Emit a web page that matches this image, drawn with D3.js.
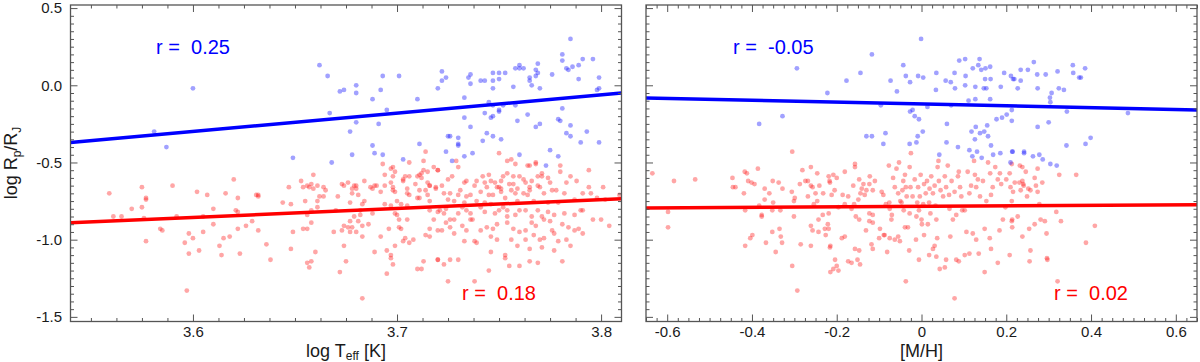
<!DOCTYPE html>
<html>
<head>
<meta charset="utf-8">
<script src="https://cdn.jsdelivr.net/npm/d3@7"></script>
<style>
  body { margin: 0; background: #fff; }
  text { font-family: "Liberation Sans", Arial, Helvetica, sans-serif; fill: #1a1a1a; }
  .rText { white-space: pre; }
</style>
</head>
<body>
<svg width="1200" height="362"></svg>
<script>
// ---- data ----
var yTicks = [0.5, 0, -0.5, -1, -1.5];
var leftXTicks = [3.6, 3.7, 3.8];
var rightXTicks = [-0.6, -0.4, -0.2, 0, 0.2, 0.4, 0.6];

// log Teff vs log Rp/RJ
var leftBlue = [
  [3.600,-0.02],[3.581,-0.30],[3.587,-0.40],
  [3.662,0.13],[3.666,0.06],[3.672,-0.04],[3.674,-0.03],[3.680,0.00],[3.680,-0.05],[3.688,-0.09],
  [3.692,-0.03],[3.693,0.06],[3.701,0.06],[3.695,-0.16],[3.667,-0.18],[3.680,-0.24],[3.677,-0.30],
  [3.691,-0.25],[3.710,-0.09],[3.720,-0.02],[3.711,-0.38],[3.688,-0.39],[3.689,-0.44],[3.693,-0.45],
  [3.678,-0.45],[3.703,-0.48],[3.649,-0.47],[3.668,-0.50],
  [3.722,0.09],[3.724,0.05],[3.722,0.03],[3.735,0.05],[3.736,0.07],[3.736,0.01],[3.741,0.03],
  [3.743,0.03],[3.747,0.08],[3.750,0.08],[3.750,0.04],[3.747,0.03],[3.747,-0.02],[3.753,0.08],
  [3.757,-0.01],[3.758,0.11],[3.760,0.13],[3.760,0.11],[3.762,0.11],[3.765,0.05],[3.765,0.03],
  [3.766,0.00],[3.768,0.06],[3.769,0.14],[3.768,0.10],[3.769,0.08],[3.770,-0.02],[3.776,0.07],
  [3.781,0.16],[3.781,0.20],[3.783,0.11],[3.784,0.10],[3.785,0.30],[3.786,0.12],[3.789,0.13],
  [3.789,0.04],[3.791,0.17],[3.796,0.17],[3.799,0.05],[3.799,-0.02],[3.798,-0.03],
  [3.733,-0.08],[3.745,-0.11],[3.747,-0.13],[3.750,-0.16],[3.750,-0.17],[3.743,-0.18],[3.746,-0.21],
  [3.747,-0.20],[3.752,-0.13],[3.758,-0.13],[3.759,-0.23],[3.764,-0.19],[3.768,-0.27],[3.770,-0.25],
  [3.781,-0.15],[3.779,-0.22],[3.780,-0.23],[3.785,-0.26],[3.783,-0.31],[3.785,-0.33],[3.793,-0.30],
  [3.790,-0.37],[3.799,-0.37],[3.733,-0.21],[3.736,-0.27],[3.744,-0.31],[3.747,-0.33],[3.751,-0.35],
  [3.742,-0.36],[3.730,-0.34],[3.725,-0.33],[3.726,-0.33],[3.730,-0.38],[3.730,-0.39],[3.724,-0.43],
  [3.733,-0.46],[3.737,-0.44],[3.727,-0.49],[3.760,-0.45],[3.775,-0.42],[3.779,-0.46],[3.773,-0.52]
];
var leftRed = [
  [3.559,-0.70],[3.561,-0.85],[3.565,-0.85],[3.570,-0.80],[3.575,-0.66],[3.575,-0.79],[3.577,-0.73],
  [3.577,-0.74],[3.576,-0.86],[3.577,-1.01],[3.584,-0.93],[3.585,-0.94],[3.590,-0.65],[3.592,-0.85],
  [3.596,-1.02],[3.598,-0.96],[3.598,-1.09],[3.600,-0.99],[3.597,-1.33],[3.602,-0.69],[3.603,-1.07],
  [3.605,-0.95],[3.605,-0.85],[3.607,-0.71],[3.610,-0.80],[3.610,-0.90],[3.613,-1.04],[3.614,-1.10],
  [3.615,-0.99],[3.616,-0.70],[3.618,-0.98],[3.620,-0.61],[3.621,-0.81],[3.622,-0.82],[3.622,-0.73],
  [3.622,-0.93],[3.623,-1.09],[3.626,-0.91],[3.629,-0.88],
  [3.631,-0.71],[3.632,-0.72],[3.632,-0.71],[3.632,-0.94],[3.636,-1.03],[3.638,-1.13],[3.644,-0.76],
  [3.648,-0.77],[3.647,-0.66],[3.649,-0.95],[3.648,-1.06],[3.653,-0.62],[3.654,-0.66],[3.655,-0.75],
  [3.656,-0.65],[3.656,-0.84],[3.658,-0.64],[3.659,-0.58],[3.658,-0.81],[3.657,-0.66],[3.659,-0.67],
  [3.661,-0.75],[3.661,-0.65],[3.662,-0.72],[3.664,-0.72],[3.664,-0.66],[3.665,-0.68],[3.661,-0.79],
  [3.654,-0.93],[3.656,-0.93],[3.658,-0.89],[3.660,-1.08],[3.656,-1.15],[3.657,-1.18],[3.658,-1.14],
  [3.669,-0.95],[3.670,-0.81],[3.671,-0.72],[3.673,-0.64],[3.674,-0.65],[3.676,-0.63],[3.674,-0.91],
  [3.673,-0.94],[3.674,-1.04],[3.675,-1.14],[3.672,-1.21],[3.678,-0.67],[3.679,-0.65],[3.680,-0.65],
  [3.680,-0.67],[3.678,-0.70],[3.677,-0.76],[3.676,-0.92],[3.677,-0.95],[3.678,-0.92],[3.677,-0.88],
  [3.679,-0.85],[3.681,-0.88],[3.681,-0.71],[3.683,-0.77],[3.684,-0.75],[3.682,-0.81],[3.682,-0.84],
  [3.683,-0.91],[3.683,-0.98],[3.680,-0.95],[3.684,-0.62],[3.686,-0.90],[3.687,-0.66],[3.688,-0.67],
  [3.688,-0.83],[3.689,-0.65],[3.690,-0.65],[3.692,-0.69],[3.689,-1.08],[3.683,-1.38],[3.693,-0.51],
  [3.694,-0.58],[3.694,-0.65],[3.694,-0.77],[3.696,-0.93],[3.692,-0.98],[3.695,-1.07],[3.695,-1.22],
  [3.697,-0.63],[3.697,-0.54],[3.698,-0.53],[3.698,-0.59],[3.699,-0.56],[3.698,-0.66],[3.697,-0.78],
  [3.698,-0.68],[3.699,-0.69],[3.700,-0.75],[3.699,-0.83],[3.699,-1.04],[3.697,-1.10],[3.697,-1.12],
  [3.698,-1.16],[3.700,-0.84],[3.701,-0.87],[3.701,-0.92],[3.702,-0.93],[3.703,-1.01],[3.704,-0.99],
  [3.702,-0.77],[3.703,-0.61],[3.703,-0.62],[3.704,-0.59],[3.706,-0.50],[3.706,-0.59],[3.705,-0.67],
  [3.705,-0.70],[3.706,-0.71],[3.705,-0.78],[3.705,-0.87],[3.706,-1.02],[3.708,-1.00],[3.709,-0.64],
  [3.710,-0.59],[3.711,-0.58],[3.712,-0.57],[3.713,-0.55],[3.712,-0.60],[3.713,-0.49],[3.714,-0.43],
  [3.711,-0.73],[3.710,-0.73],[3.711,-0.68],[3.715,-0.56],[3.715,-0.63],[3.716,-0.65],[3.716,-0.65],
  [3.714,-0.68],[3.715,-0.71],[3.716,-0.75],[3.716,-0.81],[3.718,-0.87],[3.719,-0.66],[3.719,-0.67],
  [3.718,-0.53],[3.720,-0.55],[3.720,-0.82],[3.720,-0.94],[3.716,-0.93],[3.714,-0.97],[3.716,-0.98],
  [3.713,-1.14],[3.712,-1.19],[3.710,-1.19],[3.720,-1.13],
  [3.729,-0.49],[3.730,-0.53],[3.750,-0.44],[3.754,-0.49],[3.756,-0.48],[3.758,-0.51],[3.764,-0.52],
  [3.765,-0.52],[3.768,-0.51],[3.768,-0.50],[3.780,-0.52],[3.780,-0.56],[3.794,-0.55],[3.774,-0.60],
  [3.771,-0.57],[3.771,-0.59],[3.785,-0.59],[3.788,-0.62],[3.783,-0.63],[3.794,-0.66],[3.801,-0.66],
  [3.791,-0.70],[3.795,-0.70],[3.787,-0.74],[3.798,-0.73],[3.802,-0.74],[3.809,-0.71],
  [3.720,-0.55],[3.722,-0.65],[3.725,-0.61],[3.727,-0.59],[3.733,-0.63],[3.734,-0.62],[3.723,-0.70],
  [3.726,-0.70],[3.725,-0.74],[3.728,-0.75],[3.721,-0.81],[3.723,-0.83],[3.724,-0.89],[3.722,-0.94],
  [3.726,-0.87],[3.728,-0.87],[3.730,-0.83],[3.732,-0.79],[3.733,-0.76],[3.734,-0.72],[3.736,-0.71],
  [3.738,-0.65],[3.739,-0.62],[3.742,-0.59],[3.743,-0.63],[3.744,-0.66],[3.745,-0.58],[3.746,-0.62],
  [3.748,-0.63],[3.750,-0.66],[3.751,-0.69],[3.751,-0.62],[3.752,-0.59],[3.754,-0.57],[3.755,-0.64],
  [3.757,-0.64],[3.758,-0.70],[3.759,-0.67],[3.762,-0.61],[3.763,-0.63],[3.765,-0.66],[3.766,-0.62],
  [3.769,-0.65],[3.770,-0.66],[3.772,-0.70],[3.776,-0.68],[3.778,-0.68],[3.782,-0.70],[3.745,-0.71],
  [3.747,-0.71],[3.753,-0.73],[3.759,-0.75],[3.764,-0.71],[3.767,-0.75],
  [3.724,-0.80],[3.734,-0.81],[3.736,-0.87],[3.737,-0.87],[3.741,-0.79],[3.743,-0.82],[3.748,-0.83],
  [3.750,-0.81],[3.754,-0.81],[3.760,-0.81],[3.763,-0.81],[3.769,-0.81],[3.774,-0.82],[3.777,-0.84],
  [3.782,-0.83],[3.787,-0.84],[3.790,-0.81],[3.791,-0.81],[3.796,-0.87],[3.800,-0.87],[3.804,-0.91],
  [3.726,-0.92],[3.732,-0.91],[3.734,-0.94],[3.741,-0.94],[3.744,-0.92],[3.747,-0.93],[3.749,-0.90],
  [3.754,-0.89],[3.757,-0.93],[3.760,-0.95],[3.763,-0.94],[3.766,-0.89],[3.768,-0.91],[3.772,-0.87],
  [3.775,-0.88],[3.781,-0.90],[3.784,-0.92],[3.787,-0.94],[3.789,-0.93],[3.791,-0.96],[3.776,-0.94],
  [3.777,-0.96],[3.767,-0.97],[3.756,-1.00],[3.749,-1.00],[3.746,-0.98],[3.738,-1.01],[3.728,-0.96],
  [3.733,-1.01],[3.763,-1.00],[3.770,-1.00],[3.772,-0.99],[3.779,-1.01],[3.783,-1.00],[3.785,-1.04],
  [3.777,-1.07],[3.771,-1.05],[3.765,-1.06],[3.759,-1.04],[3.746,-1.08],[3.739,-1.02],[3.720,-1.13],
  [3.723,-1.16],[3.726,-1.13],[3.730,-1.13],[3.738,-1.27],[3.725,-1.27],[3.745,-1.20],[3.753,-1.10],
  [3.753,-1.12],[3.755,-1.17],[3.760,-1.17],[3.765,-1.14],[3.769,-1.15],[3.781,-1.14],
  [3.749,-0.66],[3.751,-0.67],[3.757,-0.59],[3.760,-0.59],[3.756,-0.68],[3.762,-0.70],[3.765,-0.68],
  [3.769,-0.59],[3.775,-0.63],[3.774,-0.76],[3.779,-0.76],[3.741,-0.69],[3.739,-0.75],[3.731,-0.68],
  [3.730,-0.71],[3.736,-0.83],[3.754,-0.85],[3.758,-0.84],[3.766,-0.85],[3.771,-0.85],[3.752,-0.79],
  [3.746,-0.77],[3.743,-0.76]
];

// [M/H] vs log Rp/RJ
var rightBlue = [
  [-0.294,0.11],[-0.222,-0.05],[-0.328,-0.20],[-0.383,-0.25],
  [-0.177,0.03],[-0.144,0.08],[-0.117,0.20],[-0.001,0.30],[-0.043,0.13],[-0.073,0.03],[-0.058,-0.04],
  [-0.037,0.06],[-0.027,0.02],[-0.008,0.06],[0.004,0.05],[0.035,0.08],[0.034,-0.03],[0.057,0.03],
  [0.069,0.02],[0.078,0.08],[0.079,-0.02],[0.089,0.16],[0.103,0.17],[0.104,0.06],[0.103,0.00],
  [0.121,0.11],[0.134,0.13],[0.137,0.17],[0.141,0.10],[0.151,0.11],[0.162,0.12],[0.150,0.04],
  [0.163,0.04],[0.127,-0.01],[0.147,-0.02],[0.153,-0.02],[0.187,-0.01],[0.195,0.08],[0.211,0.06],
  [0.216,0.04],[0.111,-0.10],[0.127,-0.09],[0.162,-0.09],[-0.096,-0.13],[0.014,-0.14],[0.070,-0.13],
  [-0.027,-0.17],[-0.021,-0.16],[-0.016,-0.20],[-0.006,-0.22],[0.060,-0.25],[0.003,-0.30],
  [-0.009,-0.33],[-0.012,-0.37],[-0.085,-0.31],[-0.090,-0.38],[-0.130,-0.33],[-0.117,-0.33],
  [-0.028,-0.38],[0.059,-0.37],[0.086,-0.40],[0.113,-0.42],[0.131,-0.43],[0.120,-0.46],[0.142,-0.47],
  [0.169,-0.45],[0.186,-0.44],[0.164,-0.39],[0.157,-0.33],[0.148,-0.30],[0.138,-0.31],[0.155,-0.26],
  [0.118,-0.30],[0.128,-0.27],[0.126,-0.35],[0.177,-0.22],[0.190,-0.21],[0.201,-0.19],[0.213,-0.16],
  [0.214,-0.43],[0.210,-0.50],[0.042,-0.45],
  [0.219,0.04],[0.234,0.10],[0.234,0.03],[0.227,-0.02],[0.251,0.10],[0.265,0.15],[0.273,0.07],
  [0.293,0.07],[0.274,-0.02],[0.321,0.09],[0.357,0.13],[0.358,0.08],[0.372,0.05],[0.376,0.05],
  [0.386,0.11],[0.324,-0.02],[0.336,-0.03],[0.307,-0.05],[0.303,-0.08],[0.304,-0.11],[0.343,-0.17],
  [0.213,-0.23],[0.274,-0.27],[0.300,-0.24],[0.487,-0.18],[0.342,-0.39],[0.387,-0.38],[0.399,-0.34],
  [0.215,-0.43],[0.242,-0.43],[0.242,-0.44],[0.263,-0.46],[0.278,-0.45],[0.286,-0.48],[0.304,-0.51],
  [0.319,-0.52]
];
var rightRed = [
  [-0.635,-0.57],[-0.584,-0.62],[-0.534,-0.61],[-0.598,-0.82],[-0.598,-0.92],[-0.446,-0.60],
  [-0.445,-0.66],[-0.439,-0.66],[-0.417,-0.56],[-0.412,-0.57],[-0.409,-0.62],[-0.401,-0.63],
  [-0.394,-0.64],[-0.386,-0.54],[-0.419,-0.70],[-0.416,-0.81],[-0.383,-0.78],[-0.377,-0.84],
  [-0.377,-0.85],[-0.370,-0.74],[-0.370,-0.67],[-0.359,-0.70],[-0.351,-0.62],[-0.350,-0.76],
  [-0.352,-0.81],[-0.337,-0.63],[-0.328,-0.67],[-0.333,-0.81],[-0.352,-0.95],[-0.335,-0.93],
  [-0.332,-0.98],[-0.329,-1.02],[-0.344,-1.08],[-0.367,-1.02],[-0.399,-0.97],[-0.404,-0.99],
  [-0.416,-1.04],[-0.305,-0.43],[-0.306,-0.69],[-0.299,-0.73],[-0.301,-0.75],[-0.301,-0.85],
  [-0.305,-1.17],[-0.293,-1.33],[-0.287,-0.64],[-0.281,-0.55],[-0.274,-0.62],[-0.268,-0.62],
  [-0.261,-0.53],[-0.261,-0.65],[-0.257,-0.66],[-0.246,-0.57],[-0.250,-0.70],[-0.241,-0.65],
  [-0.268,-0.72],[-0.254,-0.77],[-0.246,-0.75],[-0.232,-0.70],[-0.233,-0.84],[-0.243,-0.87],
  [-0.261,-0.91],[-0.257,-0.94],[-0.243,-0.95],[-0.228,-0.93],[-0.226,-0.97],[-0.221,-0.90],
  [-0.219,-0.93],[-0.219,-0.59],[-0.217,-0.62],[-0.219,-0.83],[-0.285,-1.03],[-0.261,-1.04],
  [-0.215,-1.04],[-0.215,-1.21],
  [-0.216,-0.63],[-0.208,-0.58],[-0.200,-0.60],[-0.205,-0.68],[-0.212,-0.71],[-0.186,-0.71],
  [-0.181,-0.56],[-0.196,-0.79],[-0.181,-0.77],[-0.173,-0.72],[-0.161,-0.65],[-0.157,-0.51],
  [-0.157,-0.53],[-0.147,-0.61],[-0.141,-0.67],[-0.137,-0.64],[-0.134,-0.71],[-0.130,-0.68],
  [-0.123,-0.64],[-0.122,-0.59],[-0.115,-0.68],[-0.110,-0.62],[-0.144,-0.70],[-0.149,-0.74],
  [-0.159,-0.77],[-0.165,-0.80],[-0.155,-0.85],[-0.147,-0.87],[-0.123,-0.83],[-0.115,-0.84],
  [-0.123,-0.88],[-0.131,-0.94],[-0.115,-0.89],[-0.098,-0.93],[-0.100,-0.99],[-0.087,-0.97],
  [-0.094,-0.69],[-0.090,-0.71],[-0.084,-0.77],[-0.077,-0.52],[-0.076,-0.76],[-0.075,-0.80],
  [-0.070,-0.84],[-0.071,-0.87],[-0.067,-0.60],[-0.063,-0.66],[-0.059,-0.54],[-0.055,-0.70],
  [-0.053,-0.50],[-0.050,-0.75],[-0.047,-0.76],[-0.045,-0.68],[-0.043,-0.62],[-0.042,-0.81],
  [-0.039,-0.58],[-0.037,-0.66],[-0.035,-0.72],[-0.032,-0.92],[-0.028,-0.83],[-0.026,-0.66],
  [-0.025,-0.44],[-0.028,-0.53],[-0.021,-0.72],[-0.016,-0.61],[-0.012,-0.85],[-0.010,-0.76],
  [-0.008,-0.66],[-0.006,-0.81],[-0.004,-0.72],[-0.002,-0.58],[0.001,-0.90],[0.004,-0.77],
  [0.006,-0.64],[0.010,-0.70],[0.013,-0.62],[0.015,-0.90],[0.018,-0.76],[0.019,-0.67],[0.021,-0.83],
  [0.023,-0.59],[0.027,-0.70],[0.031,-0.65],[0.033,-0.78],[0.035,-0.87],[0.038,-0.53],[0.040,-0.49],
  [0.041,-0.62],[0.045,-0.68],[0.051,-0.72],[0.055,-0.59],[0.058,-0.66],[0.062,-0.52],[0.065,-0.71],
  [0.066,-0.80],[0.071,-0.62],[0.074,-0.87],[0.078,-0.69],[0.082,-0.84],[0.086,-0.59],[0.088,-0.56],
  [0.091,-0.66],[0.094,-0.72],[0.096,-0.81],[0.102,-0.81],[0.106,-0.95],[0.109,-0.56],[0.113,-0.70],
  [0.117,-0.65],[0.124,-0.49],[0.126,-0.58],[0.129,-0.66],[0.133,-0.61],[0.138,-0.72],[0.145,-0.62],
  [0.149,-0.93],[0.153,-0.75],[0.157,-0.50],[0.162,-0.57],[0.164,-0.71],[0.168,-0.66],[0.174,-0.53],
  [0.180,-0.61],[0.185,-0.57],[0.188,-0.64],[0.192,-0.87],[0.198,-0.79],[0.200,-0.61],[0.208,-0.57],
  [0.214,-0.87],[0.210,-0.66],
  [-0.216,-1.05],[-0.208,-1.19],[-0.200,-1.17],[-0.196,-1.20],[-0.204,-1.13],[-0.188,-0.99],
  [-0.181,-0.98],[-0.173,-1.14],[-0.165,-1.15],[-0.157,-1.06],[-0.151,-1.13],[-0.147,-1.07],
  [-0.145,-1.16],[-0.118,-1.03],[-0.115,-1.06],[-0.089,-0.97],[-0.081,-1.08],[-0.075,-0.99],
  [-0.063,-1.00],[-0.055,-0.98],[-0.051,-1.01],[-0.039,-0.92],[-0.037,-1.27],[-0.029,-1.07],
  [-0.013,-1.00],[-0.006,-1.13],[0.000,-0.87],[0.006,-0.97],[0.018,-1.10],[0.027,-1.06],[0.031,-1.04],
  [0.035,-1.11],[0.037,-0.99],[0.043,-1.19],[0.055,-1.18],[0.058,-1.13],[0.068,-0.98],[0.078,-1.38],
  [0.082,-1.13],[0.088,-1.14],[0.102,-1.10],[0.113,-1.09],[0.121,-0.96],[0.129,-1.00],[0.135,-1.09],
  [0.149,-1.21],[0.161,-0.99],[0.164,-1.06],[0.184,-0.94],[0.180,-1.15],[0.208,-1.10],[0.214,-0.92],
  [0.213,-0.51],[0.232,-0.52],[0.238,-0.53],[0.246,-0.56],[0.220,-0.63],[0.231,-0.63],[0.238,-0.62],
  [0.241,-0.65],[0.240,-0.64],[0.216,-0.69],[0.234,-0.68],[0.252,-0.67],[0.257,-0.68],[0.249,-0.72],
  [0.274,-0.54],[0.267,-0.60],[0.270,-0.65],[0.274,-0.69],[0.285,-0.63],[0.325,-0.58],[0.365,-0.58],
  [0.213,-0.75],[0.278,-0.77],[0.213,-0.88],[0.227,-0.85],[0.254,-0.93],[0.267,-0.90],[0.281,-0.87],
  [0.291,-0.88],[0.318,-0.82],[0.329,-0.88],[0.295,-0.96],[0.238,-0.98],[0.257,-1.07],[0.255,-1.14],
  [0.296,-1.12],[0.297,-1.13],[0.409,-0.91],[0.388,-1.02],[0.321,-1.27]
];

// linear fits (end points) and correlation coefficients
var leftBlueFit = [[3.54, -0.37], [3.81, -0.05]];
var leftRedFit = [[3.54, -0.89], [3.81, -0.735]];
var rightBlueFit = [[-0.65, -0.082], [0.65, -0.16]];
var rightRedFit = [[-0.65, -0.795], [0.65, -0.773]];
var rLabels = ["r =  0.25", "r =  0.18", "r =  -0.05", "r =  0.02"];

// ---- layout ----
var svg = d3.select("svg");
var TOP = 5, BOTTOM = 321.5;
var y = d3.scaleLinear().domain([-1.53, 0.52]).range([BOTTOM, TOP]);

var panels = [
  { x0: 70.5, x1: 621.5, domain: [3.54, 3.81], ticks: leftXTicks, minor: 0.0125,
    fmt: d3.format(".1f"), blue: leftBlue, red: leftRed, blueFit: leftBlueFit, redFit: leftRedFit,
    rBlue: rLabels[0], rRed: rLabels[1], rBlueX: 156, rRedX: 462, yLabels: true },
  { x0: 646, x1: 1197, domain: [-0.65, 0.65], ticks: rightXTicks, minor: 0.025,
    fmt: function (d) { return d === 0 ? "0" : d3.format(".1f")(d); },
    blue: rightBlue, red: rightRed, blueFit: rightBlueFit, redFit: rightRedFit,
    rBlue: rLabels[2], rRed: rLabels[3], rBlueX: 733, rRedX: 1054, yLabels: false }
];

function minorTicks (domain, step, major) {
  var out = [];
  var start = Math.ceil(domain[0] / step - 1e-6);
  for (var i = start; i * step <= domain[1] + 1e-9; i++) {
    var v = +(i * step).toFixed(6);
    if (!major.some(function (m) { return Math.abs(m - v) < 1e-6; })) out.push(v);
  }
  return out;
}

function drawPanel (p) {
  var x = d3.scaleLinear().domain(p.domain).range([p.x0, p.x1]);
  var g = svg.append("g");

  // points
  g.append("g").selectAll("circle").data(p.red).join("circle")
    .attr("cx", function (d) { return x(d[0]); })
    .attr("cy", function (d) { return y(d[1]); })
    .attr("r", 2.4)
    .attr("fill", "#ff2020")
    .attr("fill-opacity", 0.4);
  g.append("g").selectAll("circle").data(p.blue).join("circle")
    .attr("cx", function (d) { return x(d[0]); })
    .attr("cy", function (d) { return y(d[1]); })
    .attr("r", 2.4)
    .attr("fill", "#2020ff")
    .attr("fill-opacity", 0.42);

  // fit lines
  var line = d3.line().x(function (d) { return x(d[0]); }).y(function (d) { return y(d[1]); });
  g.append("path").attr("d", line(p.redFit)).attr("stroke", "#ff0000").attr("stroke-width", 3.5).attr("fill", "none");
  g.append("path").attr("d", line(p.blueFit)).attr("stroke", "#0000ff").attr("stroke-width", 3.5).attr("fill", "none");

  // axes: ticks point inwards on all four sides
  var yMinor = minorTicks([-1.53, 0.52], 0.05, yTicks);
  var xMinor = minorTicks(p.domain, p.minor, p.ticks);
  var axes = [
    [d3.axisBottom(x).tickValues(p.ticks).tickSize(-7).tickPadding(5).tickFormat(p.fmt), "translate(0," + BOTTOM + ")"],
    [d3.axisBottom(x).tickValues(xMinor).tickSize(-3.5).tickFormat(""), "translate(0," + BOTTOM + ")"],
    [d3.axisTop(x).tickValues(p.ticks).tickSize(-7).tickFormat(""), "translate(0," + TOP + ")"],
    [d3.axisTop(x).tickValues(xMinor).tickSize(-3.5).tickFormat(""), "translate(0," + TOP + ")"],
    [d3.axisLeft(y).tickValues(yTicks).tickSize(-7).tickPadding(8.5)
      .tickFormat(p.yLabels ? d3.format(".1f") : ""), "translate(" + p.x0 + ",0)"],
    [d3.axisLeft(y).tickValues(yMinor).tickSize(-3.5).tickFormat(""), "translate(" + p.x0 + ",0)"],
    [d3.axisRight(y).tickValues(yTicks).tickSize(-7).tickFormat(""), "translate(" + p.x1 + ",0)"],
    [d3.axisRight(y).tickValues(yMinor).tickSize(-3.5).tickFormat(""), "translate(" + p.x1 + ",0)"]
  ];
  axes.forEach(function (a) {
    var ag = g.append("g").attr("transform", a[1]).call(a[0]);
    ag.select(".domain").remove();
    ag.selectAll("line").attr("stroke", "#555");
    ag.selectAll("text").attr("font-size", 15).attr("fill", "#1a1a1a")
      .attr("font-family", "'Liberation Sans', Arial, sans-serif")
      .text(function () { return this.textContent.replace("\u2212", "-"); });
  });

  // frame
  g.append("rect")
    .attr("x", p.x0).attr("y", TOP)
    .attr("width", p.x1 - p.x0).attr("height", BOTTOM - TOP)
    .attr("fill", "none").attr("stroke", "#555").attr("stroke-width", 1.3);

  // correlation labels
  g.append("text").attr("class", "rText").attr("x", p.rBlueX).attr("y", 54)
    .attr("font-size", 20).style("fill", "#0000ff").text(p.rBlue);
  g.append("text").attr("class", "rText").attr("x", p.rRedX).attr("y", 300)
    .attr("font-size", 20).style("fill", "#ff0000").text(p.rRed);
}

panels.forEach(drawPanel);

// axis titles
var yt = svg.append("text")
  .attr("transform", "translate(17,163) rotate(-90)")
  .attr("text-anchor", "middle").attr("font-size", 18);
yt.append("tspan").text("log R");
yt.append("tspan").attr("font-size", 12).attr("dy", 4).text("p");
yt.append("tspan").attr("dy", -4).text("/R");
yt.append("tspan").attr("font-size", 12).attr("dy", 4).text("J");

var xt = svg.append("text")
  .attr("x", 346).attr("y", 357)
  .attr("text-anchor", "middle").attr("font-size", 18);
xt.append("tspan").text("log T");
xt.append("tspan").attr("font-size", 12).attr("dy", 3).text("eff");
xt.append("tspan").attr("dy", -3).text(" [K]");

svg.append("text")
  .attr("x", 921.5).attr("y", 357)
  .attr("text-anchor", "middle").attr("font-size", 18)
  .text("[M/H]");
</script>
</body>
</html>
